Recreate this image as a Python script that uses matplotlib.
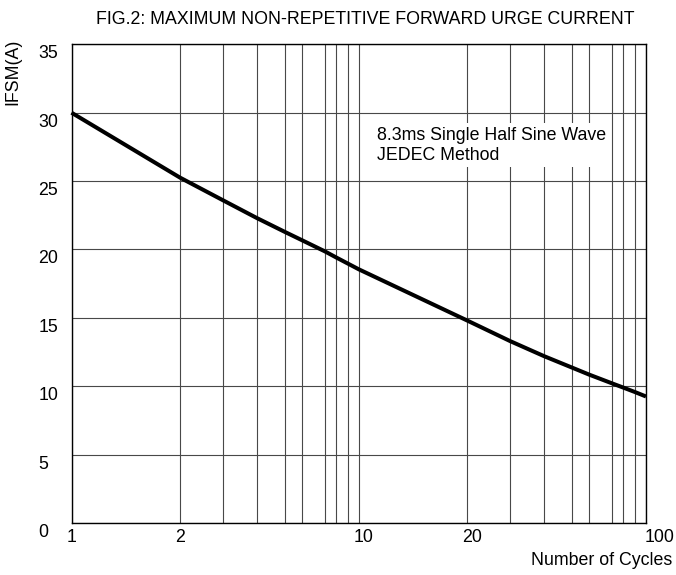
import numpy as np
import matplotlib
matplotlib.use("Agg")
import matplotlib.pyplot as plt
from matplotlib.ticker import FixedLocator, NullFormatter
from matplotlib.transforms import ScaledTranslation

# ---- data ----
cycles = [1, 2, 3, 4, 5, 6, 7, 8, 9, 10, 20, 30, 40, 50, 60, 70, 80, 90, 100]
ifsm = [30.0, 25.25, 23.6, 22.3, 21.27, 20.68, 19.85, 19.42, 18.98, 18.55,
        14.8, 13.3, 12.2, 11.35, 10.85, 10.2, 9.9, 9.58, 9.25]
x_major = [1, 2, 10, 20, 100]
x_major_labels = ["1", "2", "10", "20", "100"]
x_minor = [3, 4, 5, 6, 7, 8, 9, 30, 40, 50, 60, 70, 80, 90]
y_ticks = [0, 5, 10, 15, 20, 25, 30, 35]
title = "FIG.2: MAXIMUM NON-REPETITIVE FORWARD URGE CURRENT"
note = "8.3ms Single Half Sine Wave\nJEDEC Method"

# chart's (distorted) log-cycle paper: position of mantissa within a decade
MANT = [1, 2, 3, 4, 5, 6, 7, 8, 9, 10]
FRAC = [0.0, 0.378, 0.527, 0.645, 0.744, 0.802, 0.883, 0.921, 0.961, 1.0]


def fwd(x):
    x = np.asarray(x, dtype=float)
    l = np.log10(np.clip(x, 1e-300, None))
    d = np.floor(l + 1e-12)
    m = np.clip(10 ** (l - d), 1, 10)
    return d + np.interp(m, MANT, FRAC)


def inv(y):
    y = np.asarray(y, dtype=float)
    d = np.floor(y + 1e-12)
    m = np.interp(y - d, FRAC, MANT)
    return m * 10 ** d


FS = 12.8
plt.rcParams['font.family'] = ['Liberation Sans', 'DejaVu Sans']
plt.rcParams['font.size'] = FS

fig = plt.figure(figsize=(6.76, 5.75), dpi=100)
ax = fig.add_axes([71.5 / 676, 52 / 575, 574.5 / 676, 478.7 / 575])

ax.set_xscale('function', functions=(fwd, inv))
ax.set_xlim(1, 100)
ax.set_ylim(0, 35)

ax.xaxis.set_major_locator(FixedLocator(x_major))
ax.set_xticklabels(x_major_labels)
ax.xaxis.set_minor_locator(FixedLocator(x_minor))
ax.xaxis.set_minor_formatter(NullFormatter())
ax.set_yticks(y_ticks)

ax.grid(True, which='both', axis='x', color='#484848', linewidth=0.8)
ax.grid(True, which='major', axis='y', color='#484848', linewidth=0.8)
ax.set_axisbelow(True)

for s in ax.spines.values():
    s.set_color('black')
    s.set_linewidth(1.0)

ax.tick_params(which='both', length=0)
ax.tick_params(axis='x', pad=4.5, labelsize=FS)
ax.tick_params(axis='y', pad=24, labelsize=FS)

ax.plot(cycles, ifsm, color='black', linewidth=2.9, clip_on=False,
        solid_capstyle='butt', zorder=3)

ax.text(0.531, 0.828, note, transform=ax.transAxes, ha='left', va='top',
        fontsize=FS, linespacing=1.25, zorder=4,
        bbox=dict(boxstyle='square,pad=0.2', facecolor='white', edgecolor='none'))

ax.set_ylabel("IFSM(A)", fontsize=FS, va='center')
ax.yaxis.set_label_coords(-0.1027, 0.943)
ax.set_xlabel("Number of Cycles", fontsize=FS, ha='right', va='center')
ax.xaxis.set_label_coords(1.045, -0.079)

fig.text(365.5 / 676, (575 - 24) / 575, title, ha='center', va='baseline',
         fontsize=FS)

fig.canvas.draw()
for lbl in ax.get_yticklabels():
    lbl.set_ha('left')
    lbl.set_transform(lbl.get_transform() +
                      ScaledTranslation(0, -7.5 / 100, fig.dpi_scale_trans))
for i, lbl in enumerate(ax.get_xticklabels()):
    lbl.set_ha('left')
    dx = -1 if i == len(x_major) - 1 else -5
    lbl.set_transform(lbl.get_transform() +
                      ScaledTranslation(dx / 100, 0, fig.dpi_scale_trans))

fig.savefig("out.png", dpi=100, facecolor='white')
